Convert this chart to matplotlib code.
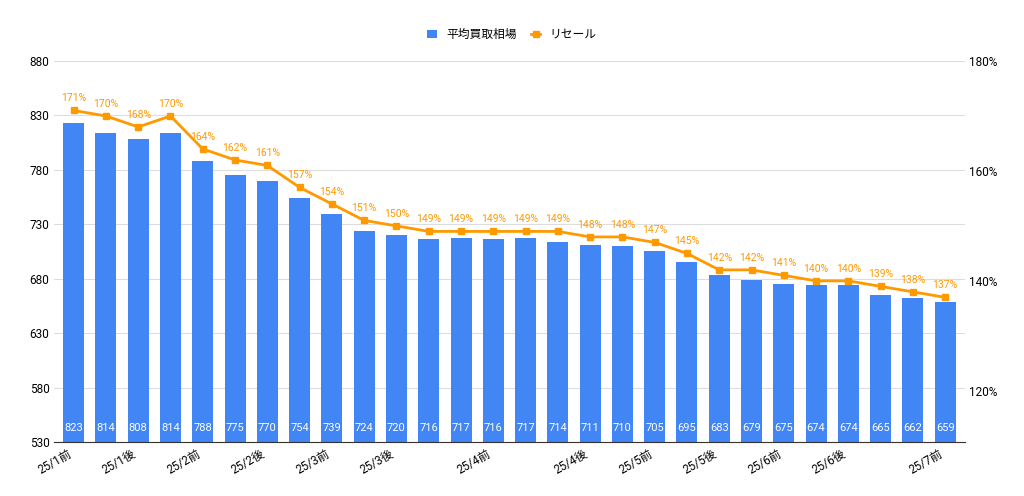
import matplotlib
matplotlib.use("Agg")
import matplotlib.pyplot as plt
plt.rcParams["font.family"] = ["Roboto", "Noto Sans CJK JP"]

values = [823,814,808,814,788,775,770,754,739,724,720,716,717,716,717,714,711,710,705,695,683,679,675,674,674,665,662,659]
resale = [171,170,168,170,164,162,161,157,154,151,150,149,149,149,149,149,148,148,147,145,142,142,141,140,140,139,138,137]
tick_pos = [0,2,4,6,8,10,13,16,18,20,22,24,27]
tick_labels = ["25/1前","25/1後","25/2前","25/2後","25/3前","25/3後","25/4前","25/4後","25/5前","25/5後","25/6前","25/6後","25/7前"]

fig = plt.figure(figsize=(10.24,4.96), dpi=100)
ax = fig.add_axes([0.053,0.109,0.889,0.768])
x = list(range(len(values)))
ax.bar(x, [v-530 for v in values], bottom=530, width=0.65, color="#4285f4", label="平均買取相場", zorder=2)
for i,v in enumerate(values):
    ax.text(i, 538, str(v), ha="center", va="bottom", color="white", fontsize=8, zorder=3)
ax.set_ylim(530,880)
ax.set_yticks(range(530,881,50))
ax.set_xlim(-0.6, len(values)-0.4)
ax.set_xticks(tick_pos)
ax.set_xticklabels(tick_labels, rotation=30, ha="right", fontsize=8.5)
ax.grid(axis="y", color="#dddddd", lw=0.8, zorder=0)
ax.tick_params(length=0, labelsize=8.5)
for s in ax.spines.values(): s.set_visible(False)
ax.spines["bottom"].set_visible(True); ax.spines["bottom"].set_color("#333333")

ax2 = ax.twinx()
ax2.plot(x, resale, color="#ff9900", marker="s", markersize=5, lw=2, label="リセール", zorder=4)
for i,r in enumerate(resale):
    ax2.text(i, r+1.3, f"{r}%", ha="center", va="bottom", color="#ff9900", fontsize=7.5)
ax2.set_ylim(110.7,180)
ax2.set_yticks([120,140,160,180])
ax2.set_yticklabels(["120%","140%","160%","180%"])
ax2.tick_params(length=0, labelsize=8.5)
for s in ax2.spines.values(): s.set_visible(False)

h1,l1 = ax.get_legend_handles_labels(); h2,l2 = ax2.get_legend_handles_labels()
fig.legend(h1+h2, l1+l2, loc="upper center", bbox_to_anchor=(0.5,0.965), ncol=2, frameon=False, fontsize=8.5, handlelength=0.8, columnspacing=1.2)
fig.savefig("out.png")
